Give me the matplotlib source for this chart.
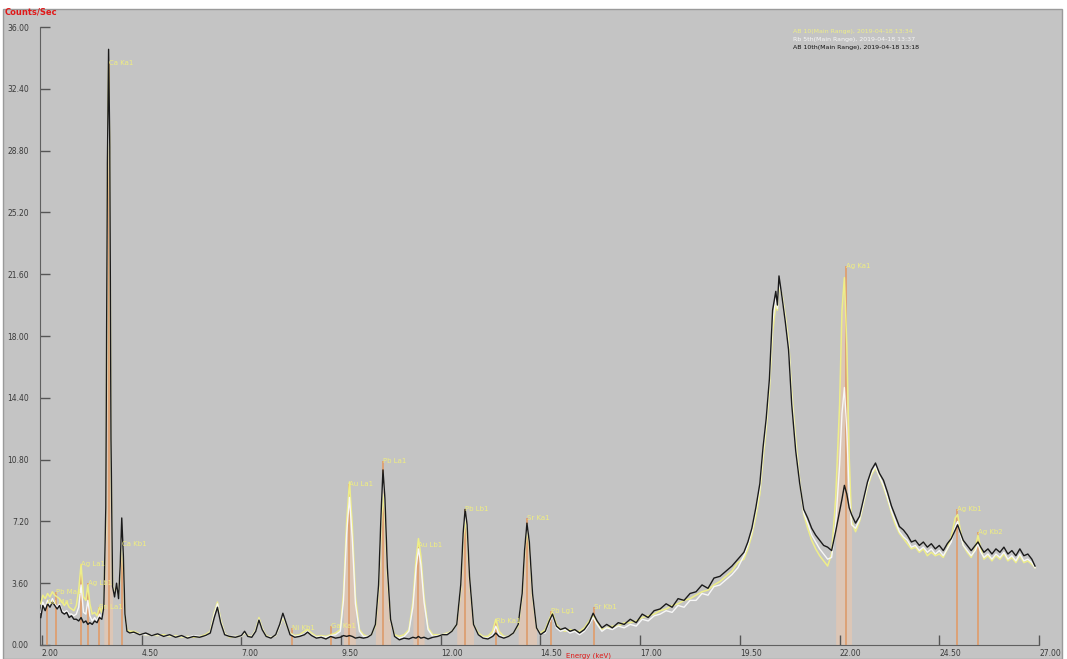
## IMPORTS
import matplotlib
matplotlib.use("Agg")
import matplotlib.pyplot as plt
from matplotlib.patches import Rectangle
import numpy as np

## Spectrum data, energy in keV, counts/sec
energy = [
    1.97, 2.02, 2.08, 2.14, 2.20, 2.26, 2.32, 2.38, 2.44, 2.50,
    2.56, 2.62, 2.68, 2.74, 2.80, 2.86, 2.92, 2.98, 3.04, 3.10,
    3.15, 3.20, 3.26, 3.32, 3.38, 3.44, 3.50, 3.55, 3.60, 3.64,
    3.67, 3.70, 3.73, 3.77, 3.82, 3.87, 3.92, 3.96, 4.00, 4.04,
    4.08, 4.13, 4.20,
    4.30, 4.45, 4.60, 4.75, 4.90, 5.05, 5.20, 5.35, 5.50, 5.65,
    5.80, 5.95, 6.10, 6.22, 6.32, 6.40, 6.48, 6.58, 6.70, 6.85,
    7.00, 7.08, 7.16, 7.26, 7.36, 7.44, 7.52, 7.62, 7.74, 7.86,
    7.96, 8.04, 8.12, 8.22, 8.34, 8.46, 8.58, 8.66, 8.76, 8.88,
    9.00, 9.12, 9.24, 9.36, 9.48,
    9.56, 9.64, 9.71, 9.78, 9.86, 9.96, 10.06, 10.16, 10.26, 10.36,
    10.44, 10.50, 10.55, 10.60, 10.66, 10.74, 10.84, 10.96, 11.08, 11.20,
    11.30, 11.38, 11.44, 11.50, 11.58, 11.68, 11.80, 11.92, 12.04, 12.16,
    12.28, 12.40, 12.50, 12.56, 12.61, 12.66, 12.72, 12.82, 12.94, 13.06,
    13.18, 13.30, 13.38, 13.46, 13.58, 13.70, 13.82, 13.94, 14.04, 14.10,
    14.16, 14.22, 14.30, 14.40, 14.50,
    14.62, 14.72, 14.80, 14.90, 15.00, 15.12, 15.24, 15.36, 15.48, 15.60,
    15.72, 15.82, 15.92, 16.04, 16.16, 16.30, 16.45, 16.60, 16.75, 16.90,
    17.05, 17.20, 17.35, 17.50, 17.65, 17.80, 17.95, 18.10, 18.25, 18.40,
    18.55, 18.70, 18.85, 19.00, 19.15, 19.30, 19.45,
    19.60, 19.70, 19.80, 19.90, 20.00, 20.08, 20.16, 20.24, 20.32, 20.40,
    20.44, 20.48, 20.56, 20.64, 20.72, 20.80, 20.90, 21.00, 21.10, 21.20,
    21.30, 21.40, 21.50, 21.60, 21.70, 21.80, 21.90, 22.00, 22.06, 22.12,
    22.18, 22.24, 22.30,
    22.40, 22.50, 22.60, 22.70, 22.80, 22.90, 23.00, 23.10, 23.20, 23.30,
    23.40, 23.50, 23.60, 23.70, 23.80, 23.90, 24.00, 24.10, 24.20, 24.30,
    24.40, 24.50, 24.60, 24.70, 24.80, 24.90, 24.96, 25.02, 25.10, 25.20,
    25.30, 25.40, 25.47, 25.54, 25.62, 25.72, 25.82, 25.92, 26.02, 26.12,
    26.22, 26.32, 26.42, 26.52, 26.62, 26.72, 26.82, 26.90,
]

black_counts = [
    1.6, 2.3, 2.0, 2.4, 2.2, 2.5, 2.3, 2.1, 2.3, 1.9,
    1.8, 1.9, 1.6, 1.7, 1.5, 1.5, 1.4, 1.6, 1.3, 1.4,
    1.2, 1.3, 1.2, 1.4, 1.3, 1.6, 1.5, 2.2, 8.0, 28.0,
    34.7, 29.0, 12.0, 3.4, 2.8, 3.6, 2.7, 4.6, 7.4, 5.2,
    1.8, 0.8, 0.7,
    0.75, 0.6, 0.7, 0.55, 0.65, 0.5, 0.6, 0.45, 0.55, 0.4,
    0.5, 0.45, 0.55, 0.7, 1.6, 2.2, 1.3, 0.6, 0.5, 0.45,
    0.55, 0.8, 0.5, 0.45, 0.8, 1.45, 0.9, 0.5, 0.4, 0.6,
    1.2, 1.85, 1.3, 0.6, 0.45, 0.5, 0.6, 0.75, 0.55, 0.4,
    0.45, 0.35, 0.5, 0.4, 0.45,
    0.55, 0.5, 0.55, 0.5, 0.4, 0.45, 0.4, 0.45, 0.6, 1.2,
    3.5, 7.5, 10.2, 8.5, 4.5, 1.5, 0.5, 0.3, 0.4, 0.35,
    0.45, 0.4, 0.5, 0.4, 0.45, 0.35, 0.45, 0.5, 0.6, 0.6,
    0.8, 1.2, 3.5, 6.5, 7.9, 7.0, 4.0, 1.2, 0.6, 0.4,
    0.35, 0.5, 0.7, 0.5, 0.4, 0.5, 0.7, 1.2, 3.0, 5.5,
    7.1, 6.0, 3.0, 1.0, 0.6,
    0.8, 1.4, 1.8, 1.1, 0.9, 1.0, 0.8, 0.9, 0.7, 0.9,
    1.3, 1.85, 1.4, 1.0, 1.2, 1.0, 1.3, 1.2, 1.5, 1.3,
    1.8, 1.6, 2.0, 2.1, 2.4, 2.2, 2.7, 2.6, 3.0, 3.1,
    3.5, 3.3, 3.9, 4.0, 4.3, 4.6, 5.0,
    5.4, 6.0, 6.8, 8.0, 9.4, 11.5, 13.2, 15.5, 19.5, 20.6,
    19.8, 21.5, 20.2, 18.8, 17.2, 14.0, 11.3, 9.4, 7.9, 7.4,
    6.8, 6.4, 6.1, 5.8, 5.7, 5.5, 6.6, 7.8, 8.5, 9.3,
    8.8, 8.0, 7.6,
    7.1, 7.5, 8.5, 9.5, 10.2, 10.6, 10.0, 9.6, 8.9, 8.1,
    7.5, 6.9, 6.7, 6.4, 6.0, 6.1, 5.8, 6.0, 5.7, 5.9,
    5.6, 5.8, 5.5, 5.9, 6.2, 6.7, 7.0, 6.6, 6.1, 5.8,
    5.5, 5.8, 6.0, 5.7, 5.4, 5.6, 5.3, 5.6, 5.4, 5.7,
    5.3, 5.5, 5.2, 5.6, 5.2, 5.3, 5.0, 4.6,
]

yellow_counts = [
    2.4, 2.9, 2.7, 3.0, 2.8, 3.1, 2.9, 2.8, 2.7, 2.5,
    2.3, 2.5, 2.2, 2.1, 2.0, 2.3, 3.2, 4.7, 2.8, 2.6,
    3.5, 2.4, 1.8, 1.9, 1.7, 2.2, 1.9, 2.4, 7.0, 26.0,
    33.8, 28.0, 11.0, 3.6, 3.0, 3.4, 2.9, 4.2, 6.3, 4.6,
    1.7, 0.9, 0.8,
    0.8, 0.65, 0.6, 0.6, 0.55, 0.6, 0.5, 0.55, 0.45, 0.5,
    0.45, 0.5, 0.6, 0.8, 1.9, 2.5, 1.5, 0.7, 0.45, 0.5,
    0.5, 0.7, 0.55, 0.5, 0.9, 1.6, 1.0, 0.55, 0.45, 0.55,
    1.1, 1.6, 1.2, 0.7, 0.55, 0.6, 0.8, 0.9, 0.7, 0.5,
    0.55, 0.5, 0.6, 0.7, 0.9,
    3.0, 7.2, 9.5, 7.0, 2.8, 0.9, 0.6, 0.5, 0.6, 1.1,
    3.0, 6.5, 8.8, 7.5, 4.0, 1.4, 0.6, 0.5, 0.6, 0.9,
    2.5, 5.0, 6.2, 5.2, 2.8, 1.0, 0.6, 0.6, 0.6, 0.7,
    0.8, 1.2, 3.2, 6.0, 7.3, 6.4, 3.8, 1.2, 0.7, 0.5,
    0.5, 0.8, 1.5, 0.8, 0.5, 0.5, 0.7, 1.1, 2.8, 5.2,
    6.8, 5.7, 2.8, 1.0, 0.7,
    0.9, 1.5, 1.9, 1.2, 0.9, 0.8, 0.9, 0.8, 0.8, 1.0,
    1.4, 1.7, 1.3, 0.9, 1.0, 1.1, 1.1, 1.3, 1.3, 1.4,
    1.6, 1.7, 1.8, 2.0, 2.1, 2.3, 2.4, 2.6, 2.7, 2.9,
    3.1, 3.2, 3.5, 3.7, 4.0, 4.3, 4.8,
    5.0, 5.6, 6.4, 7.5, 8.8, 10.8, 12.6, 14.8, 18.2, 19.8,
    19.5, 20.8, 20.4, 19.2, 17.8, 14.8, 12.0, 9.6, 7.6, 6.8,
    6.1, 5.6, 5.2, 4.9, 4.6, 5.3, 8.5, 14.0, 19.5, 21.4,
    17.5, 11.0, 7.2,
    6.6, 7.2, 8.2, 9.2, 9.9, 10.3, 9.8, 9.2, 8.5, 7.7,
    7.0, 6.5, 6.2, 5.9, 5.6, 5.7, 5.4, 5.6, 5.2, 5.4,
    5.2, 5.3, 5.1, 5.6, 6.3, 7.4, 7.6, 6.8, 5.8, 5.4,
    5.1, 5.6, 6.4, 5.6, 5.0, 5.2, 4.9, 5.2, 5.0, 5.3,
    4.9, 5.1, 4.8, 5.2, 4.8, 4.9, 4.7, 4.5,
]

white_counts = [
    1.9, 2.5, 2.2, 2.6, 2.3, 2.7, 2.4, 2.2, 2.4, 2.0,
    1.9, 2.0, 1.8, 1.8, 1.7, 1.8, 2.2, 3.5, 1.9, 1.8,
    2.6, 1.7, 1.4, 1.6, 1.4, 1.8, 1.6, 2.3, 7.5, 27.0,
    31.5, 28.5, 11.5, 3.5, 2.9, 3.5, 2.8, 4.4, 6.8, 4.9,
    1.8, 0.8, 0.7,
    0.7, 0.65, 0.6, 0.6, 0.6, 0.5, 0.55, 0.5, 0.5, 0.45,
    0.55, 0.5, 0.5, 0.75, 1.8, 2.4, 1.4, 0.65, 0.5, 0.5,
    0.5, 0.75, 0.5, 0.5, 0.85, 1.5, 0.95, 0.5, 0.45, 0.55,
    1.1, 1.7, 1.25, 0.65, 0.5, 0.55, 0.65, 0.8, 0.6, 0.45,
    0.5, 0.45, 0.55, 0.6, 0.8,
    2.6, 6.5, 8.6, 6.2, 2.4, 0.8, 0.5, 0.5, 0.6, 1.2,
    3.3, 7.2, 9.8, 8.2, 4.3, 1.4, 0.5, 0.4, 0.5, 0.8,
    2.2, 4.5, 5.6, 4.7, 2.5, 0.9, 0.5, 0.55, 0.6, 0.65,
    0.8, 1.2, 3.4, 6.3, 7.7, 6.8, 3.9, 1.2, 0.6, 0.45,
    0.4, 0.6, 1.1, 0.6, 0.45, 0.5, 0.7, 1.2, 2.9, 5.4,
    7.0, 5.9, 2.9, 1.0, 0.65,
    0.7, 1.3, 1.7, 1.0, 0.8, 0.9, 0.7, 0.8, 0.6, 0.8,
    1.2, 1.6, 1.2, 0.8, 1.0, 0.9, 1.1, 1.0, 1.2, 1.1,
    1.5, 1.4, 1.7, 1.8, 2.0, 1.9, 2.3, 2.2, 2.6, 2.6,
    3.0, 2.9, 3.4, 3.5, 3.8, 4.1, 4.5,
    5.2, 5.8, 6.6, 7.8, 9.1, 11.2, 12.9, 15.2, 18.8, 20.2,
    19.6, 21.1, 20.3, 19.0, 17.5, 14.4, 11.6, 9.5, 7.7, 7.1,
    6.4, 6.0, 5.6, 5.3, 5.0, 5.1, 7.0, 10.5, 13.5, 15.0,
    12.5, 8.8, 7.0,
    6.8, 7.3, 8.3, 9.3, 10.0, 10.4, 9.8, 9.3, 8.6, 7.8,
    7.2, 6.6, 6.3, 6.1, 5.7, 5.8, 5.5, 5.7, 5.4, 5.6,
    5.3, 5.5, 5.2, 5.6, 6.0, 6.9, 7.2, 6.5, 5.8, 5.5,
    5.2, 5.5, 5.9, 5.4, 5.1, 5.3, 5.0, 5.3, 5.1, 5.4,
    5.0, 5.2, 4.9, 5.3, 4.9, 5.0, 4.8, 4.5,
]

# element line markers: name, line energy, height of the marker/label
line_names = ["Au Ma1", "Pb Ma1", "Ag La1", "Ag Lb1", "Sn La1", "Ca Ka1", "Ca Kb1",
              "Ni Kb1", "Ga Ka1", "Au La1", "Pb La1", "Au Lb1", "Pb Lb1", "Rb Ka1",
              "Sr Ka1", "Pb Lg1", "Sr Kb1", "Ag Ka1", "Ag Kb1", "Ag Kb2"]
line_energy = [2.12, 2.34, 2.98, 3.15, 3.44, 3.69, 4.01,
               8.26, 9.25, 9.71, 10.55, 11.44, 12.61, 13.39,
               14.16, 14.76, 15.84, 22.16, 24.94, 25.46]
line_height = [2.5, 3.1, 4.7, 3.6, 2.2, 33.9, 5.9,
               1.0, 1.1, 9.4, 10.7, 5.8, 7.9, 1.4,
               7.4, 2.0, 2.2, 22.1, 7.9, 6.6]

# fitted peak areas shaded under the spectrum
shade_black = [(3.55, 3.78), (10.36, 10.80), (12.40, 12.85), (13.94, 14.42)]
shade_yellow = [(9.50, 9.92), (11.25, 11.64), (21.86, 22.34)]

legend_lines = ["AB 10(Main Range), 2019-04-18 13:34",
                "Rb 5th(Main Range), 2019-04-18 13:37",
                "AB 10th(Main Range), 2019-04-18 13:18"]
legend_colors = ["#eeee88", "#f6f6f6", "#111111"]

assert len(energy) == len(black_counts) == len(yellow_counts) == len(white_counts)

E = np.array(energy)
BG = "#c4c4c4"

## Figure
W, H = 1067, 659
fig = plt.figure(figsize=(W / 100, H / 100), dpi=100, facecolor="white")
frame = Rectangle((3 / W, 0), (1062 - 3) / W, (659 - 9) / H, transform=fig.transFigure,
                  facecolor=BG, edgecolor="#9a9a9a", lw=1, zorder=-10)
fig.add_artist(frame)

ax = fig.add_axes([40 / W, 14 / H, 999 / W, 618 / H])
ax.set_facecolor(BG)
ax.set_zorder(1)

# tan shading under fitted peaks
for lo, hi in shade_black:
    m = (E >= lo) & (E <= hi)
    ax.fill_between(E[m], 0, np.array(black_counts)[m], color="#dcc6b6", lw=0, zorder=1)
for lo, hi in shade_yellow:
    m = (E >= lo) & (E <= hi)
    ax.fill_between(E[m], 0, np.array(yellow_counts)[m], color="#dcc6b6", lw=0, zorder=1)

# element markers
ax.vlines(line_energy, 0, line_height, colors="#dca276", lw=1.4, zorder=2)

# the three spectra, black drawn last (on top)
ax.plot(energy, yellow_counts, color="#eeee88", lw=1.1, zorder=3)
ax.plot(energy, white_counts, color="#f7f7f7", lw=1.0, zorder=4)
ax.plot(energy, black_counts, color="#1a1a1a", lw=1.0, zorder=5)

for name, e, h in zip(line_names, line_energy, line_height):
    ax.text(e, h, name, color="#f0ee80", fontsize=5, ha="left", va="center", zorder=6)

## Axes styling
ax.set_xlim(1.95, 27.0)
ax.set_ylim(0, 36.0)
ax.set_xticks([2.0, 4.5, 7.0, 9.5, 12.0, 14.5, 17.0, 19.5, 22.0, 24.5, 27.0])
ax.set_yticks([0, 3.6, 7.2, 10.8, 14.4, 18.0, 21.6, 25.2, 28.8, 32.4, 36.0])
ax.xaxis.set_major_formatter(plt.FormatStrFormatter("%.2f"))
ax.yaxis.set_major_formatter(plt.FormatStrFormatter("%.2f"))
ax.tick_params(direction="in", length=7, width=1, color="#555555", labelsize=5.5,
               labelcolor="#3a3a3a")
ax.tick_params(axis="y", pad=8)
ax.tick_params(axis="x", pad=3)
for lab in ax.get_xticklabels():
    lab.set_horizontalalignment("left")
for s in ["top", "right"]:
    ax.spines[s].set_visible(False)
for s in ["left", "bottom"]:
    ax.spines[s].set_color("#606060")

## Texts
fig.text(5 / W, 1 - 12 / H, "Counts/Sec", color="#e01818", fontsize=6, fontweight="bold", va="center")
fig.text(566 / W, 1 - 656 / H, "Energy (keV)", color="#e01818", fontsize=5, ha="left", va="center")
for i, (txt, col) in enumerate(zip(legend_lines, legend_colors)):
    fig.text(793 / W, 1 - (31 + 8 * i) / H, txt, color=col, fontsize=4.5, va="center")

fig.savefig("out.png", dpi=100, facecolor=fig.get_facecolor())
